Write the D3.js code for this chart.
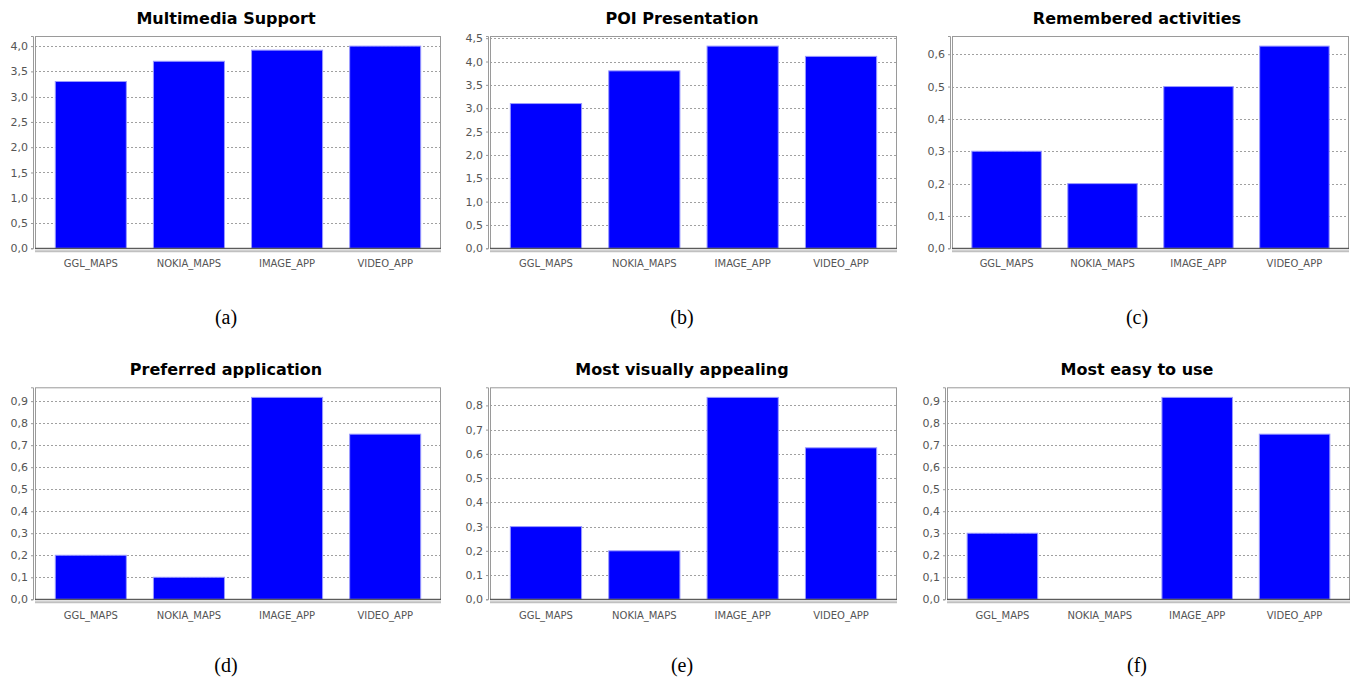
<!DOCTYPE html>
<html>
<head>
<meta charset="utf-8">
<script src="https://cdn.jsdelivr.net/npm/d3@7"></script>
<style>
  body { margin: 0; background: #fff; }
  svg { display: block; }
  .title { font-family: "DejaVu Sans", sans-serif; font-weight: bold; font-size: 16px; fill: #000; }
  .cap { font-family: "Liberation Serif", serif; font-size: 20px; fill: #000; }
  .ytick { font-family: "DejaVu Sans", sans-serif; font-size: 11px; fill: #555; }
  .xtick { font-family: "DejaVu Sans", sans-serif; font-size: 10px; fill: #555; }
</style>
</head>
<body>
<svg id="chart" width="1357" height="684"></svg>
<script>
// ─── data ───
const categories = ["GGL_MAPS", "NOKIA_MAPS", "IMAGE_APP", "VIDEO_APP"];

const multimediaSupport = [3.3, 3.7, 3.92, 4.0];
const poiPresentation = [3.1, 3.8, 4.33, 4.11];
const rememberedActivities = [0.3, 0.2, 0.5, 0.625];
const preferredApplication = [0.2, 0.1, 0.917, 0.75];
const visuallyAppealing = [0.3, 0.2, 0.833, 0.625];
const easyToUse = [0.3, 0.0, 0.917, 0.75];

const ticksHalf4 = [0, 0.5, 1, 1.5, 2, 2.5, 3, 3.5, 4];
const ticksHalf45 = [0, 0.5, 1, 1.5, 2, 2.5, 3, 3.5, 4, 4.5];
const ticksTenth6 = [0, 0.1, 0.2, 0.3, 0.4, 0.5, 0.6];
const ticksTenth8 = [0, 0.1, 0.2, 0.3, 0.4, 0.5, 0.6, 0.7, 0.8];
const ticksTenth9 = [0, 0.1, 0.2, 0.3, 0.4, 0.5, 0.6, 0.7, 0.8, 0.9];

const titles = ["Multimedia Support", "POI Presentation", "Remembered activities",
  "Preferred application", "Most visually appealing", "Most easy to use"];
const captions = ["(a)", "(b)", "(c)", "(d)", "(e)", "(f)"];
const seriesList = [multimediaSupport, poiPresentation, rememberedActivities,
  preferredApplication, visuallyAppealing, easyToUse];
const tickList = [ticksHalf4, ticksHalf45, ticksTenth6, ticksTenth9, ticksTenth8, ticksTenth9];

// ─── layout ───
const rows = [
  { top: 36, bottom: 248.3, titleY: 24, labelY: 267, capY: 324 },
  { top: 387.3, bottom: 599.3, titleY: 375, labelY: 619, capY: 672 },
];
const cols = [
  [{ x0: 35, x1: 441, cx: 226 }, { x0: 490, x1: 897, cx: 682 }, { x0: 952, x1: 1349, cx: 1137 }],
  [{ x0: 35, x1: 441, cx: 226 }, { x0: 490, x1: 897, cx: 682 }, { x0: 947, x1: 1350, cx: 1137 }],
];

const svg = d3.select('#chart');
const fmt = v => d3.format('.1f')(v).replace('.', ',');

seriesList.forEach((values, i) => {
  const r = rows[Math.floor(i / 3)];
  const c = cols[Math.floor(i / 3)][i % 3];
  const g = svg.append('g');

  const x = d3.scaleBand().domain(categories).range([c.x0, c.x1])
    .paddingInner(0.2759).paddingOuter(0.2069);
  const y = d3.scaleLinear().domain([0, d3.max(values) * 1.05]).range([r.bottom, r.top]);

  // title + caption
  g.append('text').attr('class', 'title').attr('x', c.cx).attr('y', r.titleY)
    .attr('text-anchor', 'middle').text(titles[i]);
  g.append('text').attr('class', 'cap').attr('x', c.cx).attr('y', r.capY)
    .attr('text-anchor', 'middle').text(captions[i]);

  // plot background + gridlines
  g.append('rect').attr('x', c.x0).attr('y', r.top)
    .attr('width', c.x1 - c.x0).attr('height', r.bottom - r.top).attr('fill', '#fff');
  g.selectAll('line.grid').data(tickList[i].filter(t => t > 0)).enter()
    .append('line').attr('class', 'grid')
    .attr('x1', c.x0).attr('x2', c.x1)
    .attr('y1', d => Math.round(y(d)) + 0.5).attr('y2', d => Math.round(y(d)) + 0.5)
    .attr('stroke', '#a0a0a0').attr('stroke-dasharray', '2,2');

  // bars
  g.selectAll('rect.bar').data(values).enter()
    .append('rect').attr('class', 'bar')
    .attr('x', (d, j) => x(categories[j]))
    .attr('y', d => y(d))
    .attr('width', x.bandwidth())
    .attr('height', d => y(0) - y(d))
    .attr('fill', d => d > 0 ? '#0000ff' : 'none')
    .attr('stroke', d => d > 0 ? '#9a9aff' : 'none')
    .attr('stroke-width', 1);

  // plot outline
  g.append('rect').attr('x', c.x0 + 0.5).attr('y', r.top + 0.5)
    .attr('width', c.x1 - c.x0 - 1).attr('height', r.bottom - r.top)
    .attr('fill', 'none').attr('stroke', '#9a9a9a');
  g.append('line').attr('x1', c.x0).attr('x2', c.x1)
    .attr('y1', y(0)).attr('y2', y(0)).attr('stroke', '#444');

  // value axis
  const yAxis = d3.axisLeft(y).tickValues(tickList[i]).tickFormat(fmt).tickSize(2).tickPadding(3);
  const ya = g.append('g').attr('transform', `translate(${c.x0 - 2},0)`).call(yAxis);
  ya.select('.domain').attr('stroke', '#9a9a9a');
  ya.selectAll('.tick line').attr('stroke', '#9a9a9a');
  ya.selectAll('.tick text').attr('class', 'ytick').attr('fill', null);

  // category axis
  g.append('line').attr('x1', c.x0).attr('x2', c.x1)
    .attr('y1', r.bottom + 3).attr('y2', r.bottom + 3)
    .attr('stroke', '#c0c0c0').attr('stroke-width', 2);
  g.selectAll('text.xtick').data(categories).enter()
    .append('text').attr('class', 'xtick')
    .attr('x', d => x(d) + x.bandwidth() / 2).attr('y', r.labelY)
    .attr('text-anchor', 'middle').text(d => d);
});
</script>
</body>
</html>
